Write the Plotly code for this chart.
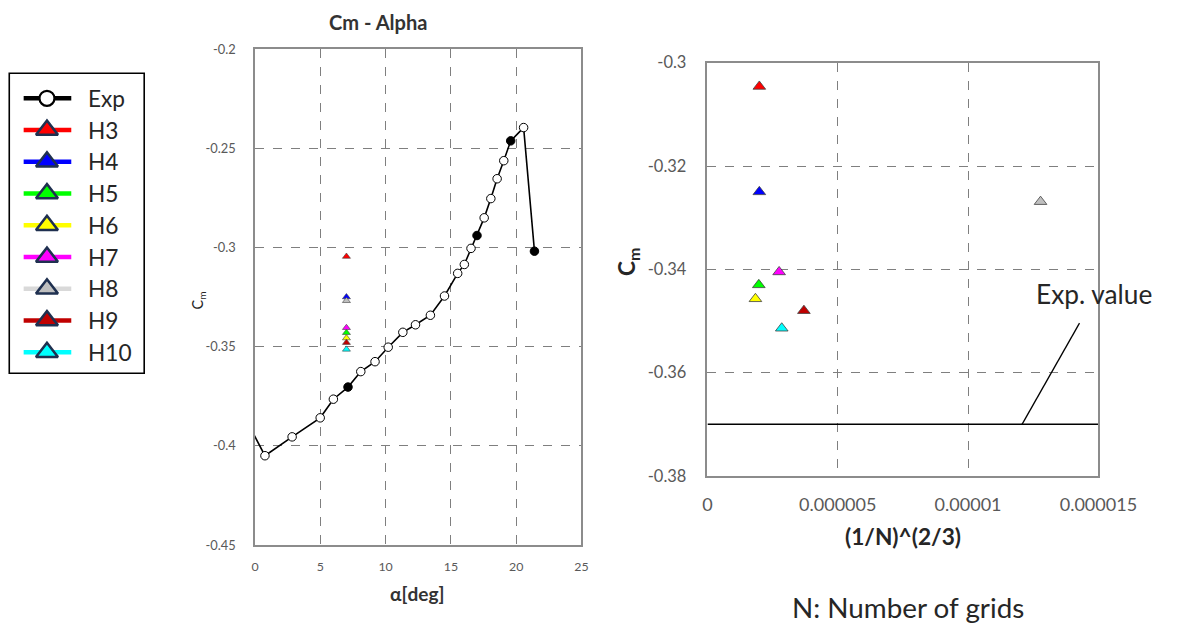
import plotly.graph_objects as go

# Experimental Cm vs angle of attack
exp_alpha = [-0.6, 0.76, 2.84, 4.99, 6.0, 7.12, 8.1, 9.19, 10.2, 11.32, 12.29, 13.43,
             14.51, 15.52, 16.03, 16.54, 17.0, 17.55, 18.06, 18.54, 19.05, 19.58, 20.57, 21.4]
exp_cm = [-0.388, -0.405, -0.3955, -0.3859, -0.3765, -0.3704, -0.3626, -0.3576, -0.3503,
          -0.3428, -0.339, -0.3342, -0.3245, -0.3131, -0.3086, -0.3005, -0.294, -0.2851,
          -0.2754, -0.2654, -0.2563, -0.2463, -0.2396, -0.3019]
exp_filled = [False, False, False, False, False, True, False, False, False, False, False, False,
              False, False, False, False, True, False, False, False, False, True, False, True]

# Computed cases at alpha = 7 deg
case_names = ["H3", "H4", "H5", "H6", "H7", "H8", "H9", "H10"]
case_alpha = [7.0, 7.0, 7.0, 7.0, 7.0, 7.0, 7.0, 7.0]
case_grid = [1.99e-6, 1.99e-6, 1.97e-6, 1.84e-6, 2.75e-6, 12.78e-6, 3.70e-6, 2.85e-6]
case_cm = [-0.3046, -0.325, -0.343, -0.3457, -0.3405, -0.3269, -0.348, -0.3514]
case_fill = ["#ff0000", "#0000ff", "#00ff00", "#ffff00", "#ff00ff", "#bfbfbf", "#c00000", "#00ffff"]
case_line = ["#ff0000", "#0000ff", "#00ff00", "#ffff00", "#ff00ff", "#d9d9d9", "#c00000", "#00ffff"]

exp_value = -0.37
grid_range = [0, 0.000015]

alpha_ticks = [0, 5, 10, 15, 20, 25]
cm_ticks = [-0.45, -0.4, -0.35, -0.3, -0.25, -0.2]
cm_tick_text = ["-0.45", "-0.4", "-0.35", "-0.3", "-0.25", "-0.2"]
grid_ticks = [0, 0.000005, 0.00001, 0.000015]
grid_tick_text = ["0", "0.000005", "0.00001", "0.000015"]
cm2_ticks = [-0.38, -0.36, -0.34, -0.32, -0.3]
cm2_tick_text = ["-0.38", "-0.36", "-0.34", "-0.32", "-0.3"]

FONT = "Lato"
TICK = "#595959"
DARK = "#262626"
GRID = "#7f7f7f"
W, H = 1187, 624

# Drawable area of the page in screen pixels (offset and size of the paper)
VIEW_OX, VIEW_OY, VIEW_W, VIEW_H = 3.0, 10.0, 1152.0, 604.0
S = VIEW_W / W  # screen pixels per layout pixel


def px(x):
    """Screen x (pixels) -> paper fraction."""
    return (x - VIEW_OX) / VIEW_W


def py(y):
    """Screen y (pixels, from top) -> paper fraction."""
    return 1 - (y - VIEW_OY) / VIEW_H


def fs(size):
    """Font size in screen pixels -> layout font size."""
    return size / S


def label(text, x, y, size, color=DARK, angle=0, xanchor="center"):
    fig.add_annotation(text=text, x=px(x), y=py(y), xref="paper", yref="paper",
                       xanchor=xanchor, yanchor="middle", showarrow=False, textangle=angle,
                       font=dict(size=fs(size), color=color))


fig = go.Figure()

fig.add_trace(go.Scatter(
    x=exp_alpha, y=exp_cm, mode="lines+markers", name="Exp",
    line=dict(color="black", width=1.6),
    marker=dict(size=8.5, symbol="circle",
                color=["black" if f else "white" for f in exp_filled],
                line=dict(color="black", width=1)),
    xaxis="x", yaxis="y", showlegend=False,
))

for i, name in enumerate(case_names):
    fig.add_trace(go.Scatter(
        x=[case_alpha[i]], y=[case_cm[i]], mode="markers", name=name,
        marker=dict(size=7, symbol="triangle-up", color=case_fill[i],
                    line=dict(color="#404040", width=0.6)),
        xaxis="x", yaxis="y", showlegend=False,
    ))
    fig.add_trace(go.Scatter(
        x=[case_grid[i]], y=[case_cm[i]], mode="markers", name=name,
        marker=dict(size=11, symbol="triangle-up", color=case_fill[i],
                    line=dict(color="#404040", width=0.8)),
        xaxis="x2", yaxis="y2", showlegend=False,
    ))

fig.add_trace(go.Scatter(
    x=grid_range, y=[exp_value, exp_value], mode="lines",
    line=dict(color="black", width=1.5), xaxis="x2", yaxis="y2", showlegend=False,
))

# Key panel drawn on its own hidden axes (units = screen pixels inside the box)
KEY_X0, KEY_X1, KEY_Y0, KEY_Y1 = 7.3, 143.3, 73.3, 373.3
first_row, row_gap = 25.0, 31.75
key_names = ["Exp"] + case_names
key_line = ["black"] + case_line
for r, name in enumerate(key_names):
    ry = first_row + r * row_gap
    fig.add_trace(go.Scatter(
        x=[14.5, 62.5], y=[ry, ry], mode="lines", line=dict(color=key_line[r], width=4.5),
        xaxis="x3", yaxis="y3", showlegend=False, hoverinfo="skip",
    ))
    if r == 0:
        mk = dict(size=15, symbol="circle", color="white", line=dict(color="black", width=2.2))
    else:
        mk = dict(size=19, symbol="triangle-up", color=case_fill[r - 1],
                  line=dict(color="#1f3050", width=2.6))
    fig.add_trace(go.Scatter(
        x=[38], y=[ry], mode="markers", marker=mk,
        xaxis="x3", yaxis="y3", showlegend=False, hoverinfo="skip",
    ))
    fig.add_annotation(text=name, x=77, y=ry, xref="x3", yref="y3", xanchor="left",
                       yanchor="middle", showarrow=False, font=dict(size=fs(22), color=DARK))

axis_common = dict(showline=True, mirror=True, linecolor="#8c8c8c", linewidth=1.5,
                   showgrid=True, gridcolor=GRID, griddash="dash", gridwidth=1,
                   zeroline=False, ticks="", color=TICK)

fig.update_layout(
    width=W, height=H, autosize=False,
    margin=dict(l=0, r=0, t=0, b=0),
    paper_bgcolor="white", plot_bgcolor="white",
    font=dict(family=FONT, color=TICK),
    showlegend=False,
    xaxis=dict(domain=[px(255), px(584)], range=[0, 25],
               tickvals=alpha_ticks, ticktext=[str(v) for v in alpha_ticks],
               tickfont=dict(size=fs(12)), ticklabelstandoff=9, anchor="y", **axis_common),
    yaxis=dict(domain=[py(545), py(49)], range=[-0.45, -0.2],
               tickvals=cm_ticks, ticktext=cm_tick_text,
               tickfont=dict(size=fs(12.5)), ticklabelstandoff=15, anchor="x", **axis_common),
    xaxis2=dict(domain=[px(711), px(1105)], range=grid_range,
                tickvals=grid_ticks, ticktext=grid_tick_text,
                tickfont=dict(size=fs(17.5)), ticklabelstandoff=12, anchor="y2", **axis_common),
    yaxis2=dict(domain=[py(476), py(62.7)], range=[-0.38, -0.3],
                tickvals=cm2_ticks, ticktext=cm2_tick_text,
                tickfont=dict(size=fs(16)), ticklabelstandoff=16, anchor="x2", **axis_common),
    xaxis3=dict(domain=[px(KEY_X0), px(KEY_X1)], range=[0, KEY_X1 - KEY_X0],
                visible=False, fixedrange=True, anchor="y3"),
    yaxis3=dict(domain=[py(KEY_Y1), py(KEY_Y0)], range=[KEY_Y1 - KEY_Y0, 0],
                visible=False, fixedrange=True, anchor="x3"),
    shapes=[
        dict(type="line", xref="x2", yref="y2",
             x0=1.207e-5, y0=exp_value, x1=1.4275e-5, y1=-0.3504,
             line=dict(color="black", width=1.3)),
        dict(type="rect", xref="paper", yref="paper",
             x0=px(KEY_X0), x1=px(KEY_X1), y0=py(KEY_Y1), y1=py(KEY_Y0),
             line=dict(color="black", width=1.6), layer="below"),
    ],
)

label("<b>Cm - Alpha</b>", 379, 22, 19.5, color="#333333")
label("<b>α[deg]</b>", 418, 593, 18.5, color="#333333")
label("C<sub>m</sub>", 198, 300, 14, angle=-90)
label("<b>C<sub>m</sub></b>", 631, 262, 22, angle=-90)
label("<b>(1/N)^(2/3)</b>", 908, 536, 22)
label("N: Number of grids", 913, 607, 27)
label("Exp. value", 1040, 294, 25.5, xanchor="left")

fig.write_html("out.html")
